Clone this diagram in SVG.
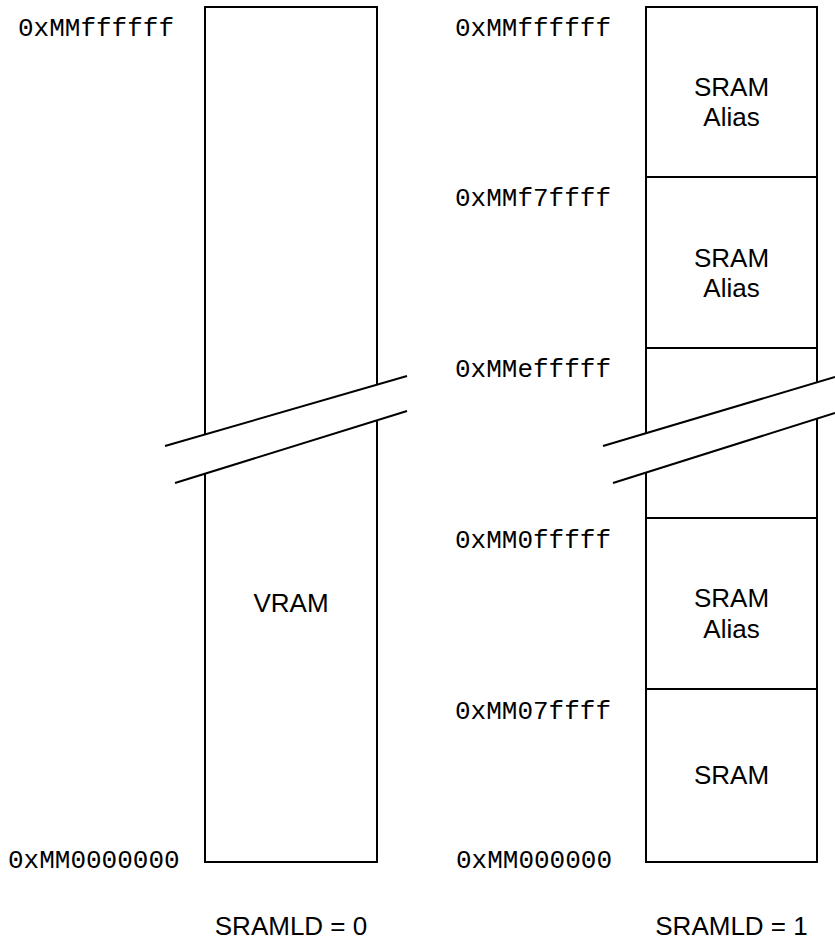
<svg xmlns="http://www.w3.org/2000/svg" width="835" height="941" viewBox="0 0 835 941">
<style>
.box{fill:#fff;stroke:#000;stroke-width:2}
.ln{stroke:#000;stroke-width:2;fill:none}
.mask{fill:#fff;stroke:none}
.addr{font-family:"Liberation Mono","Courier New",monospace;font-size:26px;fill:#000}
.lbl{font-family:"Liberation Sans",Arial,sans-serif;font-size:26px;fill:#000;text-anchor:middle}
</style>
<rect width="835" height="941" fill="#fff"/>
<g id="map-left">
<rect class="box" x="205" y="7" width="172" height="855"/>
<text class="lbl" x="291" y="612">VRAM</text>
</g>
<g id="break-left">
<polygon class="mask" points="165,446 407,376 407,411 175,483"/>
<line class="ln" x1="165" y1="446" x2="407" y2="376"/>
<line class="ln" x1="175" y1="483" x2="407" y2="411"/>
</g>
<g id="map-right">
<rect class="box" x="646" y="7" width="171" height="855"/>
<line class="ln" x1="646" y1="177" x2="817" y2="177"/>
<line class="ln" x1="646" y1="348" x2="817" y2="348"/>
<line class="ln" x1="646" y1="518" x2="817" y2="518"/>
<line class="ln" x1="646" y1="689" x2="817" y2="689"/>
<text class="lbl" x="731.5" y="96">SRAM</text>
<text class="lbl" x="731.5" y="126">Alias</text>
<text class="lbl" x="731.5" y="267">SRAM</text>
<text class="lbl" x="731.5" y="297">Alias</text>
<text class="lbl" x="731.5" y="607">SRAM</text>
<text class="lbl" x="731.5" y="638">Alias</text>
<text class="lbl" x="731.5" y="784">SRAM</text>
</g>
<g id="break-right">
<polygon class="mask" points="603,446 835,377 835,413 613,483"/>
<line class="ln" x1="603" y1="446" x2="835" y2="377"/>
<line class="ln" x1="613" y1="483" x2="835" y2="413"/>
</g>
<g id="labels">
<text class="addr" x="18" y="36">0xMMffffff</text>
<text class="addr" x="8" y="868">0xMM0000000</text>
<text class="addr" x="455" y="36">0xMMffffff</text>
<text class="addr" x="455" y="206">0xMMf7ffff</text>
<text class="addr" x="455" y="377">0xMMefffff</text>
<text class="addr" x="455" y="548">0xMM0fffff</text>
<text class="addr" x="455" y="719">0xMM07ffff</text>
<text class="addr" x="456" y="868">0xMM000000</text>
<text class="lbl" x="291" y="935">SRAMLD = 0</text>
<text class="lbl" x="731.5" y="935">SRAMLD = 1</text>
</g>
</svg>
